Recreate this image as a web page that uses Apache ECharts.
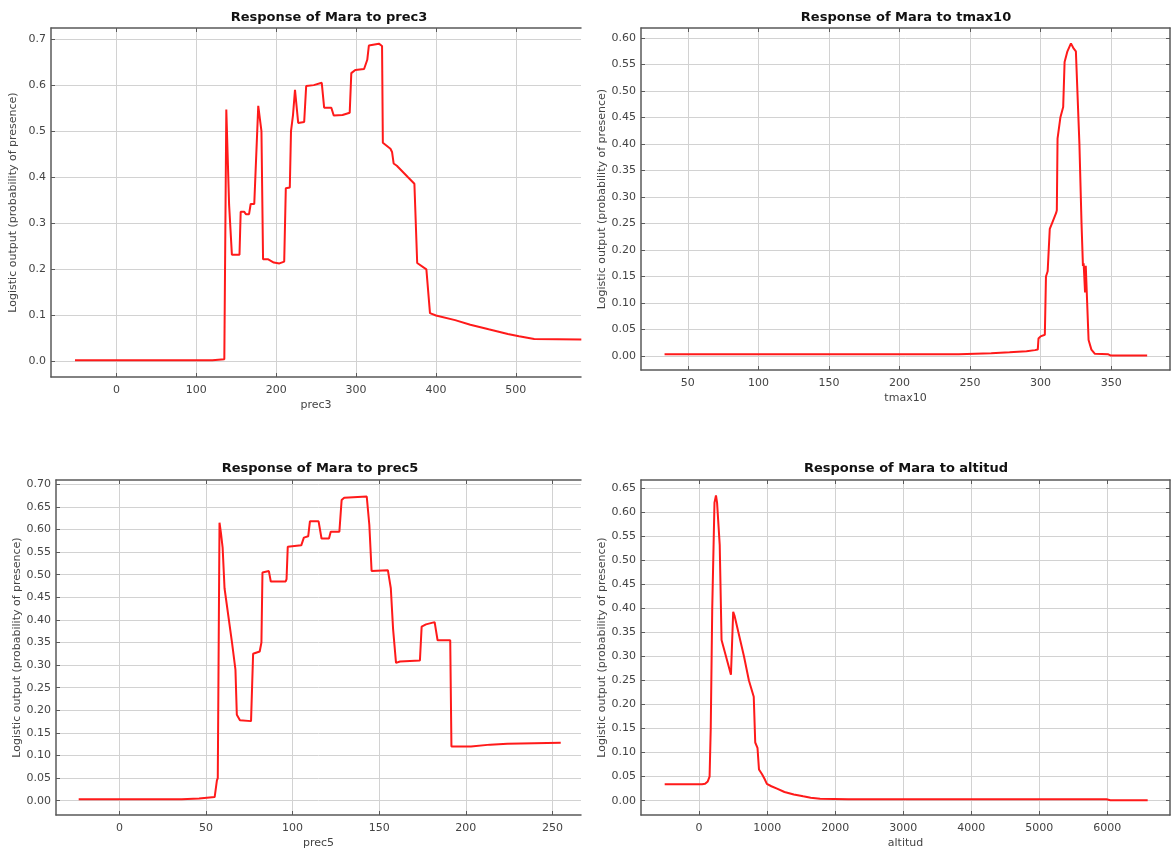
<!DOCTYPE html>
<html>
<head>
<meta charset="utf-8">
<title>Response of Mara</title>
<script src="https://cdn.jsdelivr.net/npm/echarts@6/dist/echarts.min.js"></script>
<style>
html,body{margin:0;padding:0;background:#fff;}
#chart{width:1172px;height:853px;}
</style>
</head>
<body>
<div id="chart"></div>
<script>
// response curves
var prec3X = [-52, 120, 122, 135, 137.5, 141, 143, 144.5, 154, 155.5, 160, 162, 166, 168, 172.5, 177.5, 179.5, 181.5, 183.5, 190, 197, 204, 210, 212, 217, 218.5, 221, 223.5, 225, 227.5, 235, 237.5, 247, 257, 260, 269, 272, 283, 292, 294, 299, 310, 314, 316, 328.5, 332.5, 333.5, 343, 345, 347, 351, 365, 373, 376.5, 379, 388, 392.5, 400, 424, 443, 466, 490, 504, 523, 582];
var prec3Y = [0.003, 0.003, 0.005, 0.005, 0.547, 0.34, 0.34, 0.232, 0.232, 0.325, 0.325, 0.32, 0.32, 0.342, 0.342, 0.555, 0.557, 0.5, 0.222, 0.222, 0.215, 0.213, 0.217, 0.376, 0.378, 0.5, 0.535, 0.59, 0.592, 0.518, 0.52, 0.598, 0.6, 0.605, 0.551, 0.551, 0.534, 0.535, 0.54, 0.626, 0.633, 0.635, 0.655, 0.686, 0.69, 0.685, 0.475, 0.462, 0.455, 0.43, 0.425, 0.4, 0.386, 0.214, 0.21, 0.2, 0.105, 0.1, 0.09, 0.08, 0.07, 0.06, 0.055, 0.049, 0.048];

var tmax10X = [33.5, 242, 242.5, 265, 265.5, 278, 278.5, 290, 296, 298, 298.5, 300, 303, 303.8, 305, 306.5, 308, 311, 311.5, 312, 314, 316, 317, 319, 321.5, 323.5, 325, 327.5, 329, 330, 330.5, 331.5, 332, 334, 336, 338.5, 348, 349.5, 375.5];
var tmax10Y = [0.003, 0.003, 0.005, 0.005, 0.007, 0.007, 0.008, 0.009, 0.011, 0.012, 0.033, 0.037, 0.04, 0.15, 0.16, 0.24, 0.25, 0.27, 0.275, 0.41, 0.45, 0.47, 0.555, 0.575, 0.59, 0.58, 0.575, 0.4, 0.25, 0.17, 0.175, 0.12, 0.17, 0.03, 0.012, 0.004, 0.003, 0.001, 0.001];

var prec5X = [-23.5, 36, 37, 46, 47, 55, 56.3, 56.8, 57.8, 58.7, 59.6, 60.7, 65, 67, 67.8, 69.6, 76, 77.2, 81, 82, 82.6, 86.3, 87.4, 96, 96.5, 97.2, 105, 106.5, 109, 110, 115, 116.7, 121, 122, 127, 128.3, 129.8, 142.8, 144.3, 145.6, 155, 156.7, 157.3, 158, 159.7, 162, 173.5, 174.5, 177, 182, 183.7, 191, 191.7, 203, 214, 224, 254.8];
var prec5Y = [0.003, 0.003, 0.005, 0.005, 0.008, 0.008, 0.045, 0.05, 0.615, 0.59, 0.56, 0.47, 0.35, 0.29, 0.19, 0.178, 0.176, 0.325, 0.33, 0.35, 0.505, 0.508, 0.485, 0.485, 0.49, 0.562, 0.565, 0.582, 0.585, 0.618, 0.618, 0.58, 0.58, 0.595, 0.595, 0.665, 0.67, 0.673, 0.61, 0.508, 0.51, 0.47, 0.47, 0.38, 0.305, 0.308, 0.31, 0.385, 0.39, 0.395, 0.355, 0.355, 0.12, 0.12, 0.124, 0.126, 0.128];

var altitudX = [-506, 44, 88, 127, 154, 171, 193, 226, 248, 264, 303, 330, 468, 501, 520, 578, 660, 732, 803, 825, 858, 880, 925, 963, 996, 1062, 1145, 1255, 1392, 1530, 1640, 1778, 2190, 5988, 6043, 6593];
var altitudY = [0.034, 0.034, 0.035, 0.04, 0.05, 0.15, 0.4, 0.62, 0.635, 0.62, 0.532, 0.334, 0.262, 0.393, 0.385, 0.35, 0.3, 0.25, 0.216, 0.121, 0.11, 0.065, 0.055, 0.045, 0.035, 0.03, 0.025, 0.018, 0.013, 0.009, 0.006, 0.004, 0.003, 0.003, 0.001, 0.001];

// tick values
var prec3XTicks = [0, 100, 200, 300, 400, 500];
var prec3YTicks = [0, 0.1, 0.2, 0.3, 0.4, 0.5, 0.6, 0.7];
var tmax10XTicks = [50, 100, 150, 200, 250, 300, 350];
var tmax10YTicks = [0, 0.05, 0.1, 0.15, 0.2, 0.25, 0.3, 0.35, 0.4, 0.45, 0.5, 0.55, 0.6];
var prec5XTicks = [0, 50, 100, 150, 200, 250];
var prec5YTicks = [0, 0.05, 0.1, 0.15, 0.2, 0.25, 0.3, 0.35, 0.4, 0.45, 0.5, 0.55, 0.6, 0.65, 0.7];
var altitudXTicks = [0, 1000, 2000, 3000, 4000, 5000, 6000];
var altitudYTicks = [0, 0.05, 0.1, 0.15, 0.2, 0.25, 0.3, 0.35, 0.4, 0.45, 0.5, 0.55, 0.6, 0.65];

var FONT = '"DejaVu Sans", Verdana, sans-serif';
var AXIS_COL = '#5a5a5a';
var GRID_COL = '#d2d2d2';
var LABEL_COL = '#444';
var YNAME = 'Logistic output (probability of presence)';

var panels = [
    {v:'prec3', xs:prec3X, ys:prec3Y, xt:prec3XTicks, yt:prec3YTicks, dec:1,
     grid:{left:51, top:28, width:530, height:349}, xMin:-82, xMax:581.6, yMin:-0.0335, yMax:0.724,
     tx:329, ty:11, rightBorder:false},
    {v:'tmax10', xs:tmax10X, ys:tmax10Y, xt:tmax10XTicks, yt:tmax10YTicks, dec:2,
     grid:{left:641, top:28, width:529, height:342}, xMin:16.8, xMax:391.7, yMin:-0.0265, yMax:0.619,
     tx:906, ty:11, rightBorder:true},
    {v:'prec5', xs:prec5X, ys:prec5Y, xt:prec5XTicks, yt:prec5YTicks, dec:2,
     grid:{left:56, top:480, width:525, height:335}, xMin:-36.6, xMax:266.5, yMin:-0.0317, yMax:0.7095,
     tx:320, ty:462, rightBorder:false},
    {v:'altitud', xs:altitudX, ys:altitudY, xt:altitudXTicks, yt:altitudYTicks, dec:2,
     grid:{left:641, top:480, width:529, height:335}, xMin:-854, xMax:6921, yMin:-0.0298, yMax:0.667,
     tx:906, ty:462, rightBorder:true}
];

function zip(xs, ys){
    var out = [];
    for (var i = 0; i < xs.length; i++) out.push([xs[i], ys[i]]);
    return out;
}

var option = {
    animation:false,
    backgroundColor:'#fff',
    textStyle:{fontFamily:FONT},
    title:[], grid:[], xAxis:[], yAxis:[], series:[]
};

panels.forEach(function(p, i){
    option.title.push({
        text:'Response of Mara to ' + p.v,
        left:p.tx, top:p.ty, textAlign:'center', padding:0,
        textStyle:{fontFamily:FONT, fontSize:13, fontWeight:'bold', color:'#111'}
    });
    option.grid.push(Object.assign({containLabel:false}, p.grid));

    var lineStyle = {color:AXIS_COL, width:1.5};
    // bottom / left axes with labels
    option.xAxis.push({
        type:'value', gridIndex:i, position:'bottom', min:p.xMin, max:p.xMax,
        name:p.v, nameLocation:'middle', nameGap:23,
        nameTextStyle:{fontFamily:FONT, fontSize:11, color:LABEL_COL},
        axisLine:{show:true, onZero:false, lineStyle:lineStyle},
        axisTick:{show:true, inside:true, length:4, customValues:p.xt, lineStyle:{color:AXIS_COL}},
        axisLabel:{customValues:p.xt, color:LABEL_COL, fontSize:11, fontFamily:FONT, margin:8,
            formatter:function(v){ return String(v); }},
        splitLine:{show:true, lineStyle:{color:GRID_COL, width:1}}
    });
    option.yAxis.push({
        type:'value', gridIndex:i, position:'left', min:p.yMin, max:p.yMax,
        name:YNAME, nameLocation:'middle', nameGap:32,
        nameTextStyle:{fontFamily:FONT, fontSize:11, color:LABEL_COL},
        axisLine:{show:true, onZero:false, lineStyle:lineStyle},
        axisTick:{show:true, inside:true, length:4, customValues:p.yt, lineStyle:{color:AXIS_COL}},
        axisLabel:{customValues:p.yt, color:LABEL_COL, fontSize:11, fontFamily:FONT, margin:5,
            formatter:function(v){ return v.toFixed(p.dec); }},
        splitLine:{show:true, lineStyle:{color:GRID_COL, width:1}}
    });
    // top / right frame with small ticks
    option.xAxis.push({
        type:'value', gridIndex:i, position:'top', min:p.xMin, max:p.xMax,
        axisLine:{show:true, onZero:false, lineStyle:lineStyle},
        axisTick:{show:true, inside:true, length:4, customValues:p.xt, lineStyle:{color:AXIS_COL}},
        axisLabel:{show:false}, splitLine:{show:false}
    });
    option.yAxis.push({
        type:'value', gridIndex:i, position:'right', min:p.yMin, max:p.yMax,
        axisLine:{show:p.rightBorder, onZero:false, lineStyle:lineStyle},
        axisTick:{show:p.rightBorder, inside:true, length:4, customValues:p.yt, lineStyle:{color:AXIS_COL}},
        axisLabel:{show:false}, splitLine:{show:false}
    });

    option.series.push({
        type:'line', xAxisIndex:i * 2, yAxisIndex:i * 2,
        data:zip(p.xs, p.ys), showSymbol:false, symbol:'none',
        lineStyle:{color:'#ff1a1a', width:2}, silent:true
    });
});

var myChart = echarts.init(document.getElementById('chart'), null, {renderer:'canvas'});
myChart.setOption(option);
</script>
</body>
</html>
